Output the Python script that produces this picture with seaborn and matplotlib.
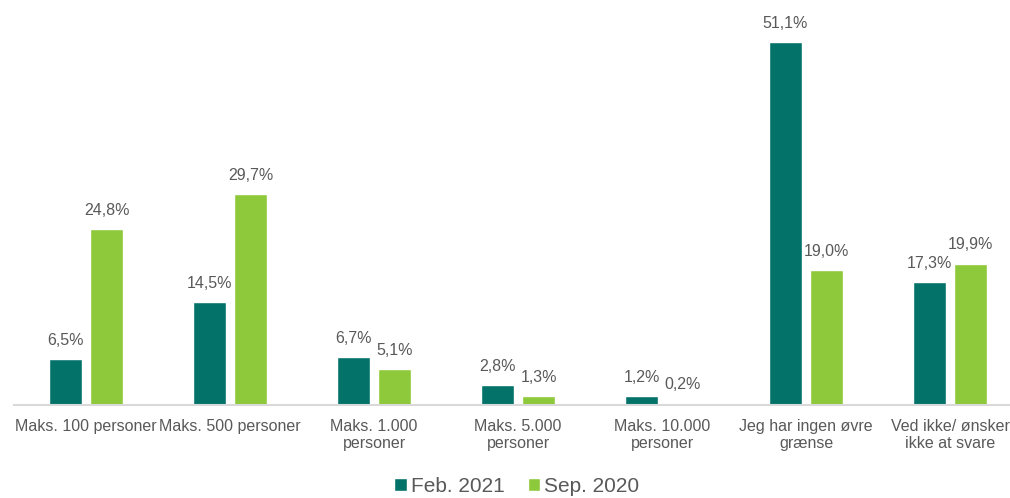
import matplotlib
matplotlib.use("Agg")
import matplotlib.pyplot as plt
import seaborn as sns
import pandas as pd
from matplotlib.patches import Patch

# ── Data ───────────────────────────────────────────────────────────────────────
categories = [
    "Maks. 100 personer",
    "Maks. 500 personer",
    "Maks. 1.000\npersoner",
    "Maks. 5.000\npersoner",
    "Maks. 10.000\npersoner",
    "Jeg har ingen øvre\ngrænse",
    "Ved ikke/ ønsker\nikke at svare",
]
feb_2021 = [6.5, 14.5, 6.7, 2.8, 1.2, 51.1, 17.3]
sep_2020 = [24.8, 29.7, 5.1, 1.3, 0.2, 19.0, 19.9]
series_names = ["Feb. 2021", "Sep. 2020"]

# ── Style ──────────────────────────────────────────────────────────────────────
TEAL = "#03736A"
GREEN = "#8DC93B"
GREY_TXT = "#595959"
AXIS_LINE = "#D9D9D9"

sns.set_style("white")
plt.rcParams["font.family"] = ["Liberation Sans", "DejaVu Sans"]

df = pd.DataFrame({
    "kategori": categories * 2,
    "andel": feb_2021 + sep_2020,
    "periode": [series_names[0]] * len(categories) + [series_names[1]] * len(categories),
})

fig = plt.figure(figsize=(10.10, 4.98), dpi=100)
ax = fig.add_axes([14 / 1010, 93 / 498, 1008 / 1010, 405 / 498])

sns.barplot(
    data=df, x="kategori", y="andel", hue="periode",
    hue_order=series_names, order=categories,
    palette=[TEAL, GREEN], saturation=1,
    width=0.57, gap=0.2, errorbar=None, legend=False, ax=ax,
)

# value labels with comma decimals
for container, vals in zip(ax.containers, [feb_2021, sep_2020]):
    ax.bar_label(
        container,
        labels=[f"{v:.1f}%".replace(".", ",") for v in vals],
        padding=8, fontsize=11.5, color=GREY_TXT,
    )

ax.set_xlim(-0.5, len(categories) - 0.5)
ax.set_ylim(0, 57)
ax.set_xlabel("")
ax.set_ylabel("")
ax.set_yticks([])
ax.tick_params(axis="x", length=0, pad=10, labelsize=11.5, labelcolor=GREY_TXT)
for lbl in ax.get_xticklabels():
    lbl.set_linespacing(1.15)

for side in ["top", "right", "left"]:
    ax.spines[side].set_visible(False)
ax.spines["bottom"].set_color(AXIS_LINE)
ax.spines["bottom"].set_linewidth(1.5)

handles = [Patch(facecolor=TEAL, label=series_names[0]),
           Patch(facecolor=GREEN, label=series_names[1])]
fig.legend(
    handles=handles, loc="center", bbox_to_anchor=(517 / 1010, 1 - 486 / 498),
    ncol=2, frameon=False, fontsize=15, labelcolor=GREY_TXT,
    handlelength=0.6, handleheight=0.6, handletextpad=0.2, columnspacing=1.1,
)

fig.savefig("out.png", dpi=100)
